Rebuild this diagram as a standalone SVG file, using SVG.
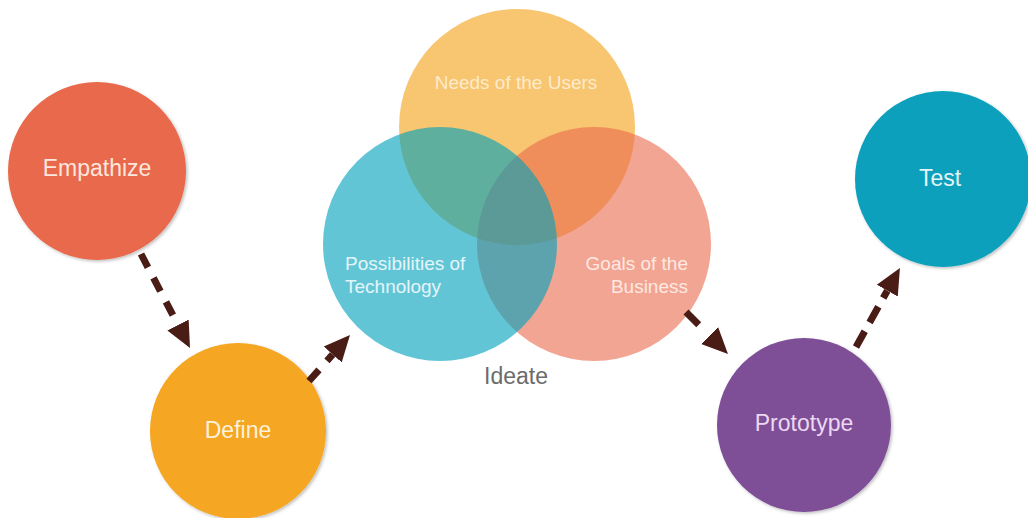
<svg xmlns="http://www.w3.org/2000/svg" width="1028" height="518" viewBox="0 0 1028 518">
  <style>
    text { font-family: "Helvetica Neue", "Liberation Sans", Arial, sans-serif; }
    .lbl { font-size: 23px; text-anchor: middle; }
    .small { font-size: 19px; }
    .conn { fill: none; stroke: #4a1c16; stroke-width: 7; stroke-dasharray: 15 12; marker-end: url(#ah); }
  </style>
  <defs>
    <filter id="sh" x="-10%" y="-10%" width="125%" height="125%">
      <feDropShadow dx="1.5" dy="1.5" stdDeviation="1.5" flood-color="#000" flood-opacity="0.25"/>
    </filter>
    <marker id="ah" markerUnits="userSpaceOnUse" markerWidth="30" markerHeight="30" viewBox="0 -15 30 30" refX="0" refY="0" orient="auto">
      <path d="M0,-12 L26,0 L0,12 Z" fill="#4a1c16"/>
    </marker>
  </defs>
  <rect width="1028" height="518" fill="#ffffff"/>

  <g id="empathize">
    <circle cx="97" cy="171" r="89" fill="#e8694b" filter="url(#sh)"/>
    <text class="lbl" x="97" y="176" fill="#fbe7dd">Empathize</text>
  </g>

  <g id="define">
    <circle cx="238" cy="431" r="88" fill="#f5a623" filter="url(#sh)"/>
    <text class="lbl" x="238" y="438" fill="#fdf1da">Define</text>
  </g>

  <g id="ideate">
    <g id="needs">
      <circle cx="517" cy="127" r="118" fill="#f5a623" fill-opacity="0.65"/>
    </g>
    <g id="business">
      <circle cx="594" cy="244" r="117" fill="#e9694b" fill-opacity="0.6"/>
    </g>
    <g id="technology">
      <circle cx="440" cy="244" r="117" fill="#02a1bd" fill-opacity="0.62"/>
    </g>
    <text class="small" x="516" y="89" text-anchor="middle" fill="#fdebcb">Needs of the Users</text>
    <text class="small" x="345" y="270" fill="#e4f5f8">Possibilities of</text>
    <text class="small" x="345" y="293" fill="#e4f5f8">Technology</text>
    <text class="small" x="688" y="270" text-anchor="end" fill="#fde9e2">Goals of the</text>
    <text class="small" x="688" y="293" text-anchor="end" fill="#fde9e2">Business</text>
    <text class="lbl" x="516" y="384" fill="#6b6b6b">Ideate</text>
  </g>

  <g id="prototype">
    <circle cx="804" cy="425" r="87" fill="#7e4f97" filter="url(#sh)"/>
    <text class="lbl" x="804" y="431" fill="#ecd8f1">Prototype</text>
  </g>

  <g id="test">
    <circle cx="943" cy="179" r="88" fill="#0aa0bc" filter="url(#sh)"/>
    <text class="lbl" x="940" y="186" fill="#e3f5f8">Test</text>
  </g>

  <g id="connectors">
    <path class="conn" d="M141,254 L178,325"/>
    <path class="conn" d="M309,381 L332.7,354.4"/>
    <path class="conn" d="M686,312 L709.6,335.6" style="stroke-dasharray: 18 20"/>
    <path class="conn" d="M856,347 L887.3,290.7" style="stroke-dasharray: 18 10"/>
  </g>
</svg>
